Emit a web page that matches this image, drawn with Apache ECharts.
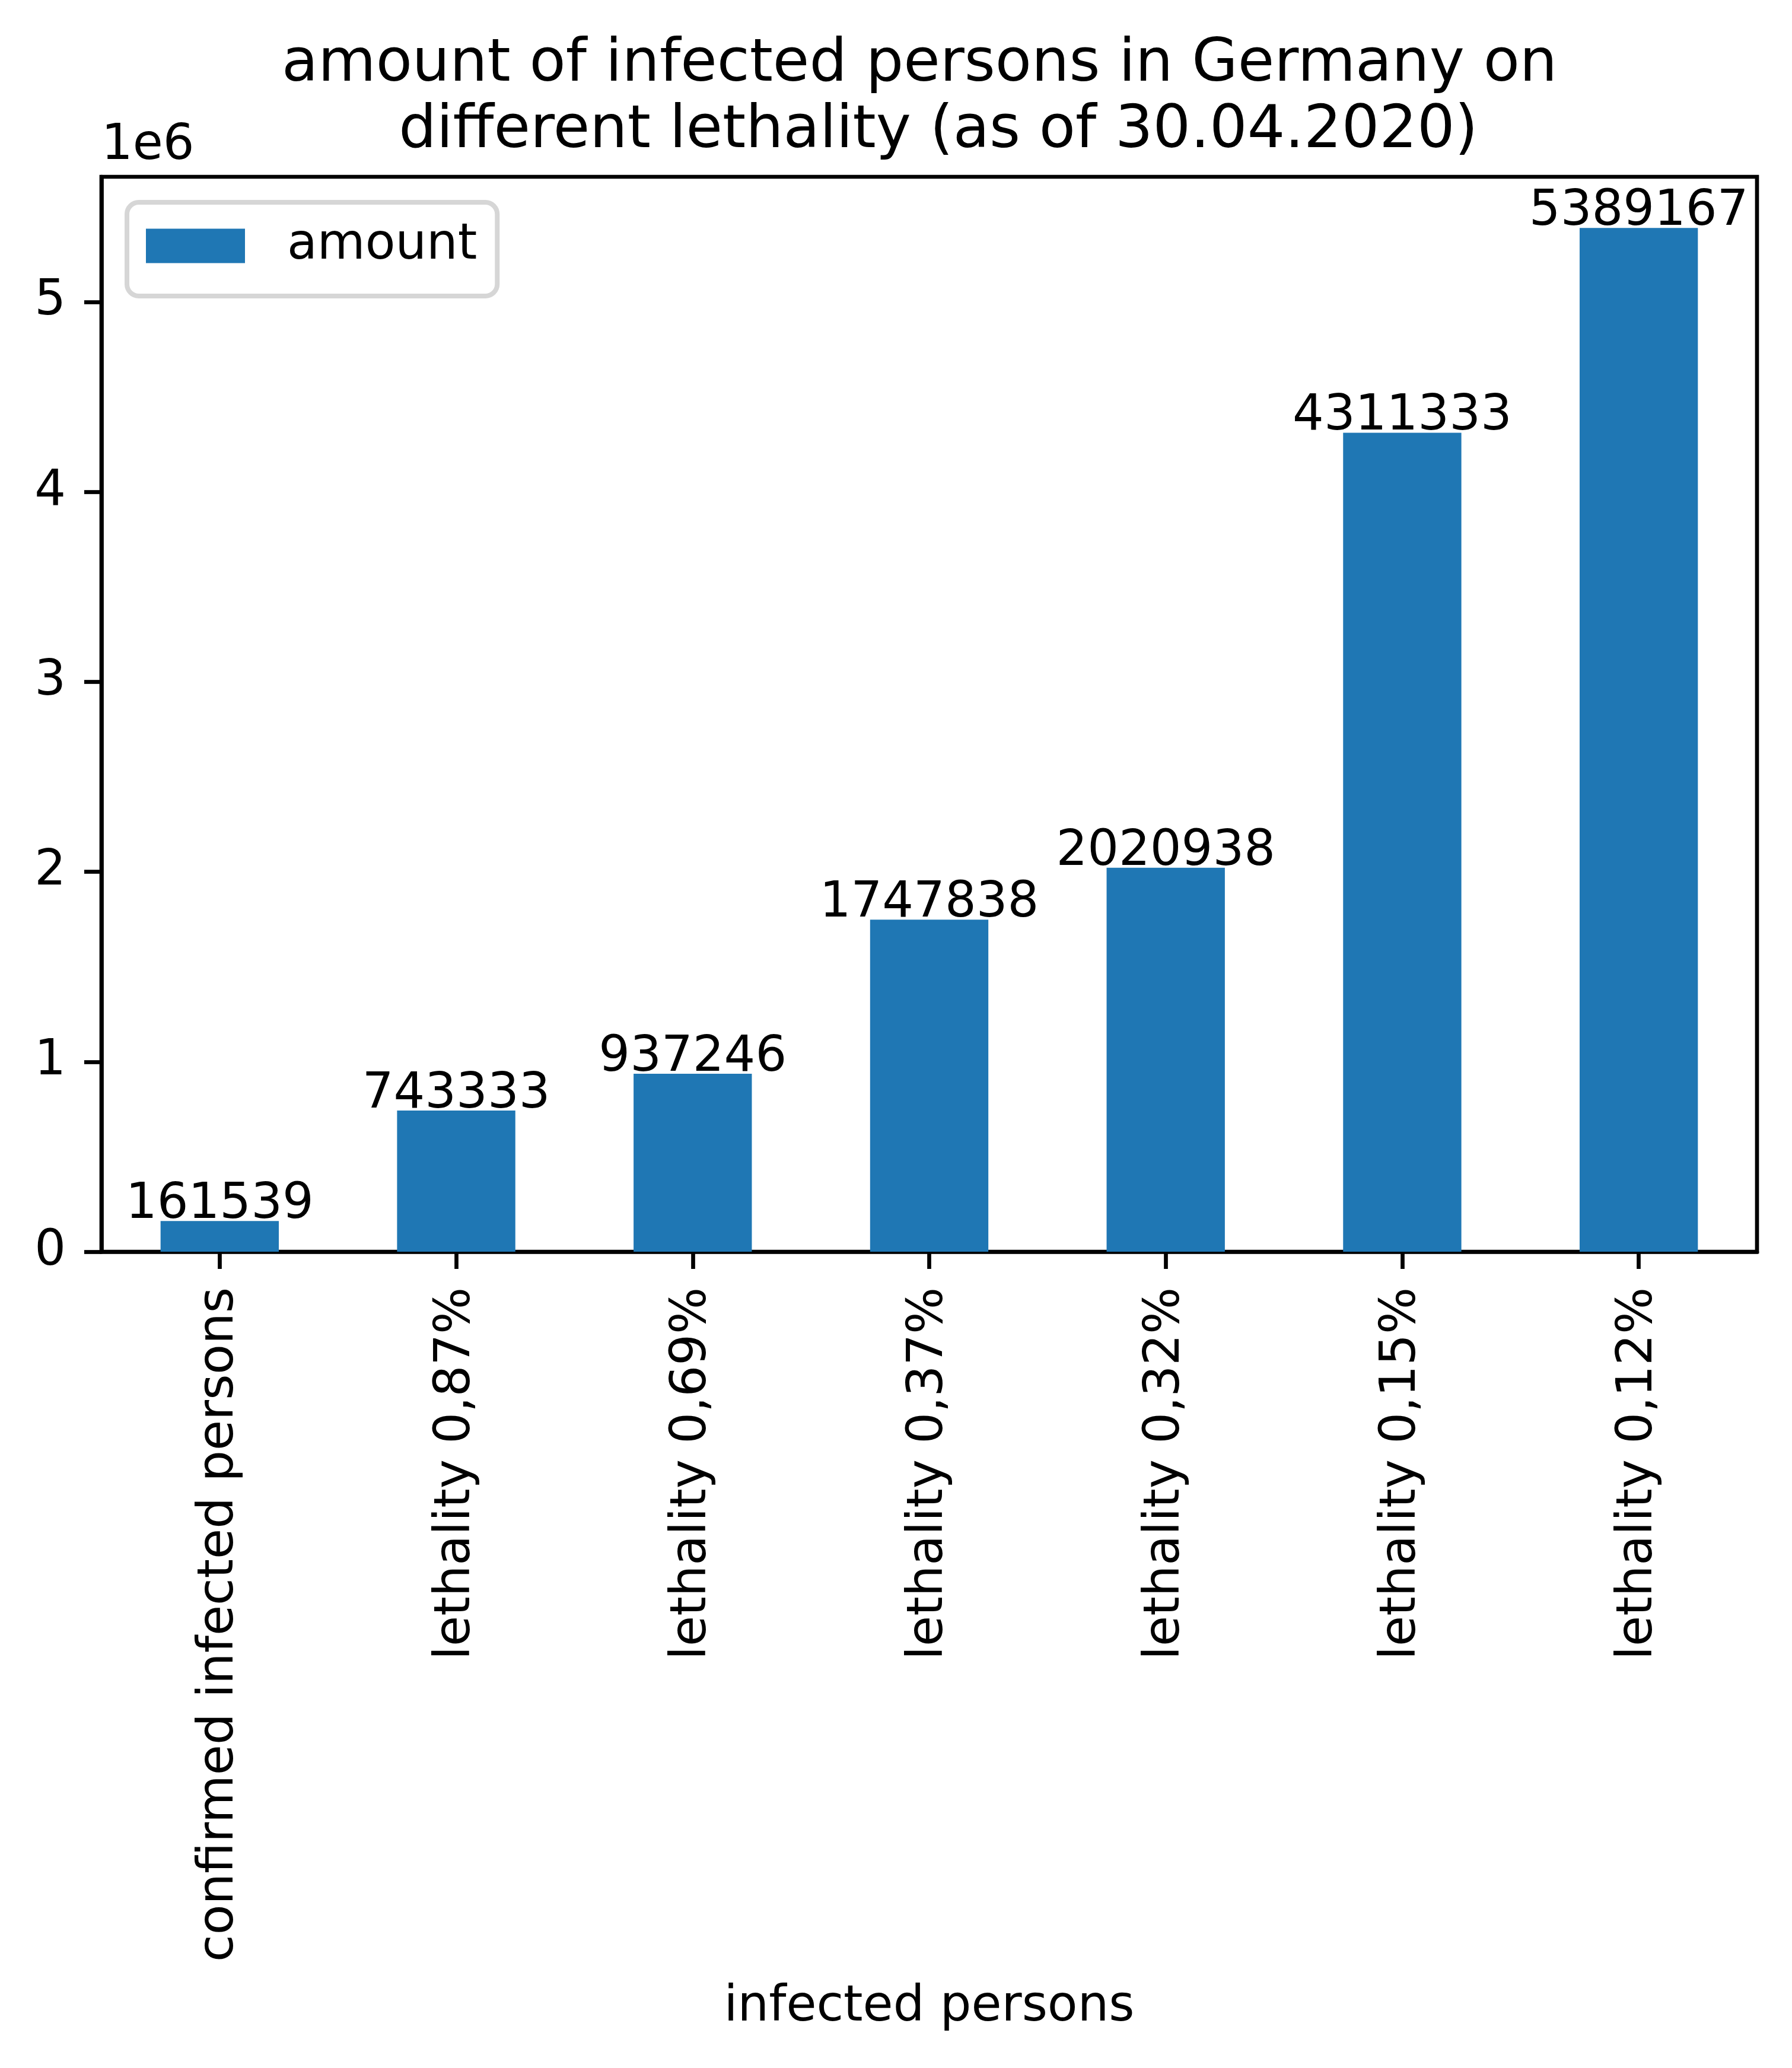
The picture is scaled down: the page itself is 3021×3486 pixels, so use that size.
<!DOCTYPE html>
<html>
<head>
<meta charset="utf-8">
<script src="https://cdn.jsdelivr.net/npm/echarts@6/dist/echarts.min.js"></script>
<style>
html,body{margin:0;padding:0;background:#fff;}
#chart{width:3021px;height:3486px;}
</style>
</head>
<body>
<div id="chart"></div>
<script>
const categories = ['confirmed infected persons','lethality 0,87%','lethality 0,69%','lethality 0,37%','lethality 0,32%','lethality 0,15%','lethality 0,12%'];
const amounts = [161539, 743333, 937246, 1747838, 2020938, 4311333, 5389167];
const yTicks = [0, 1000000, 2000000, 3000000, 4000000, 5000000];
const titleText = 'amount of infected persons in Germany on \n different lethality (as of 30.04.2020)';
const seriesName = 'amount';
const xName = 'infected persons';

const FONT = 'DejaVu Sans';
const yMax = Math.max(...amounts) * 1.05;

const chart = echarts.init(document.getElementById('chart'), null, {renderer: 'canvas'});
chart.setOption({
  backgroundColor: '#ffffff',
  animation: false,
  title: {
    text: titleText,
    left: 1566,
    top: 54,
    textAlign: 'center',
    padding: 0,
    textStyle: {fontFamily: FONT, fontSize: 100, fontWeight: 'normal', color: '#000', lineHeight: 112}
  },
  legend: {
    left: 214,
    top: 341,
    orient: 'vertical',
    data: [seriesName],
    itemWidth: 167,
    itemHeight: 58,
    padding: [32, 34, 43, 32],
    backgroundColor: '#fff',
    borderColor: '#d6d6d6',
    borderWidth: 8,
    borderRadius: 20,
    icon: 'rect',
    textStyle: {fontFamily: FONT, fontSize: 83, color: '#000', padding: [0, 0, 12, 66]}
  },
  grid: {
    left: 171, right: 59, top: 298, bottom: 1376,
    show: true, borderColor: '#000', borderWidth: 6.7, backgroundColor: 'transparent'
  },
  graphic: [{
    type: 'text',
    left: 171,
    top: 205,
    style: {text: '1e6', font: '83px "DejaVu Sans"', fill: '#000'}
  }],
  xAxis: {
    type: 'category',
    data: categories,
    name: xName,
    nameLocation: 'middle',
    nameGap: 1233,
    nameTextStyle: {fontFamily: FONT, fontSize: 83, color: '#000'},
    axisLine: {show: true, lineStyle: {color: '#000', width: 6.7}},
    axisTick: {show: true, alignWithLabel: true, length: 29, lineStyle: {color: '#000', width: 6.7}},
    axisLabel: {rotate: 90, margin: 60, fontFamily: FONT, fontSize: 83, color: '#000', interval: 0},
    splitLine: {show: false}
  },
  yAxis: {
    type: 'value',
    min: 0,
    max: yMax,
    axisLine: {show: true, lineStyle: {color: '#000', width: 6.7}},
    axisTick: {show: true, length: 29, lineStyle: {color: '#000', width: 6.7}, customValues: yTicks},
    axisLabel: {margin: 60, fontFamily: FONT, fontSize: 83, color: '#000', customValues: yTicks,
      formatter: v => String(Math.round(v / 1e6))},
    splitLine: {show: false}
  },
  series: [{
    name: seriesName,
    type: 'bar',
    data: amounts,
    barWidth: '50%',
    itemStyle: {color: '#1f77b4'},
    label: {show: true, position: 'top', distance: -15, fontFamily: FONT, fontSize: 83, color: '#000', formatter: '{c}'}
  }]
});
</script>
</body>
</html>
